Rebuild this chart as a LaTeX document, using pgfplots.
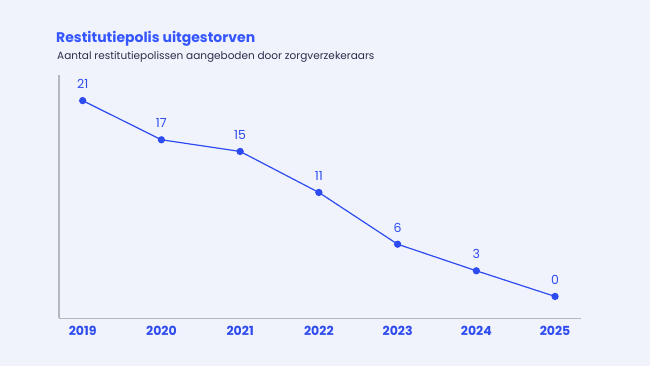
\documentclass[border=0pt]{standalone}
\usepackage{pgfplots}
\pgfplotsset{compat=1.18}
\usepackage{fontspec}
\setmainfont{Poppins}
\definecolor{bg}{HTML}{F0F3FC}
\definecolor{mainblue}{HTML}{2E4BF0}
\definecolor{titleblue}{HTML}{3556FF}
\definecolor{subgray}{HTML}{2A2E4A}
\definecolor{axgray}{HTML}{B4B6C0}
\begin{document}
\begin{tikzpicture}[x=1pt,y=1pt]
\fill[bg] (0,0) rectangle (650,366);
\node[anchor=west,font=\fontsize{14}{16}\selectfont\bfseries,text=titleblue,inner sep=0] at (56,327) {Restitutiepolis uitgestorven};
\node[anchor=west,font=\fontsize{10.5}{12}\selectfont,text=subgray,inner sep=0] at (57,309) {Aantal restitutiepolissen aangeboden door zorgverzekeraars};
\begin{axis}[
  at={(75,51)}, anchor=south west, scale only axis,
  width=522, height=243,
  xmin=-0.30, xmax=6.33, ymin=-2.36, ymax=23.7,
  axis x line=bottom, axis y line=left,
  axis line style={axgray, line width=1.2pt, -},
  xtick={0,1,2,3,4,5,6},
  xticklabels={2019,2020,2021,2022,2023,2024,2025},
  ytick=\empty,
  major tick length=0pt,
  x tick label style={font=\fontsize{12.5}{14}\selectfont\bfseries, text=mainblue, yshift=-4pt},
  nodes near coords,
  point meta=explicit symbolic,
  every node near coord/.append style={font=\fontsize{12.5}{14}\selectfont, text=mainblue, yshift=8pt},
  /pgf/number format/assume math mode=true,
  clip=false,
]
\addplot[color=mainblue, line width=1.2pt, mark=*, mark size=3pt] coordinates {
(0,21) [21]
(1,16.8) [17]
(2,15.55) [15]
(3,11.15) [11]
(4,5.6) [6]
(5,2.75) [3]
(6,0) [0]
};
\end{axis}
\end{tikzpicture}
\end{document}
